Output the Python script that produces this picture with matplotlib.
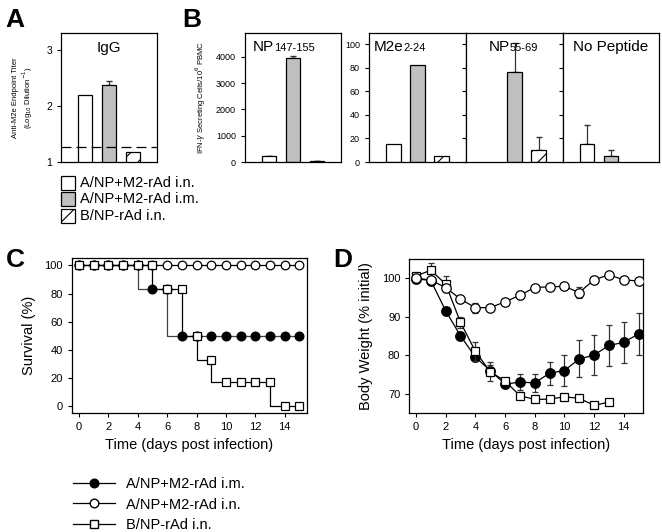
import numpy as np
import matplotlib
matplotlib.use("Agg")
import matplotlib.pyplot as plt
from matplotlib.patches import Rectangle
from matplotlib.lines import Line2D

plt.rcParams['font.family'] = ['Liberation Sans', 'DejaVu Sans']
plt.rcParams['hatch.linewidth'] = 0.8

W, H = 662, 532

# panel A: anti-M2e IgG titer
groups = ["A/NP+M2-rAd i.n.", "A/NP+M2-rAd i.m.", "B/NP-rAd i.n."]
igg = [2.2, 2.38, 1.18]
igg_err = [0, 0.07, 0]
igg_cutoff = 1.27

# panel B: ELISPOT per peptide
peptides = [("NP", "147-155"), ("M2e", "2-24"), ("NP", "55-69"), ("No Peptide", "")]
elispot = [[220, 3950, 40], [15.5, 82, 5], [0, 76.7, 10.6], [15.6, 5.4, 0]]
elispot_err = [[15, 100, 15], [0, 0, 0], [0, 24, 10.5], [15.5, 5.2, 0]]

# panel C: survival
days = list(range(16))
surv_im = [100] * 5 + [83, 83] + [50] * 9
surv_in = [100] * 16
surv_bnp = [100] * 6 + [83, 83, 50, 33, 17, 17, 17, 17, 0, 0]
series_labels = ["A/NP+M2-rAd i.m.", "A/NP+M2-rAd i.n.", "B/NP-rAd i.n."]

# panel D: body weight
wt_im = [99.8, 99.3, 91.5, 85, 79.5, 76, 72.5, 73, 72.8, 75.3, 76, 79, 80, 82.5, 83.3, 85.5]
wt_im_err = [0.5, 0.5, 0.5, 1.0, 1.0, 1.5, 1.0, 2.0, 2.3, 3.0, 4.0, 4.8, 5.2, 5.2, 5.3, 5.5]
wt_in = [100, 99.4, 97.5, 94.5, 92.3, 92.3, 93.8, 95.5, 97.5, 97.7, 97.8, 96.2, 99.5, 100.8, 99.5, 99.2]
wt_in_err = [0.5, 0.5, 0.5, 0.5, 1.3, 1.0, 0.7, 1.0, 0.5, 0.5, 0.5, 1.5, 0.5, 0.5, 0.5, 0.5]
bnp_days = list(range(14))
wt_bnp = [100.5, 102, 98.4, 88.5, 81, 75.7, 73.3, 69.5, 68.5, 68.6, 69.2, 68.8, 67, 67.8]
wt_bnp_err = [0.5, 1.8, 2.0, 1.5, 2.5, 2.5, 0.5, 1.0, 0.7, 0.7, 0.5, 0.5, 0.3, 0.3]

fills = ['white', '#c0c0c0', 'white']
hatches = [None, None, '//']


def box(l, r, t, b):
    return [l / W, 1 - b / H, (r - l) / W, (b - t) / H]


def bars(ax, vals, errs):
    x = np.arange(3)
    for i in range(3):
        if vals[i] <= 0:
            continue
        ax.bar(x[i], vals[i], width=0.62, color=fills[i], edgecolor='black',
               linewidth=0.9, hatch=hatches[i], zorder=2)
        if errs[i] > 0:
            ax.errorbar(x[i], vals[i], yerr=[[0], [errs[i]]], fmt='none',
                        ecolor='#333333', elinewidth=0.9, capsize=2.5, zorder=1)
    ax.set_xlim(-1, 3)
    ax.set_xticks([])


fig = plt.figure(figsize=(W / 100, H / 100), dpi=100)

# ---- A
axA = fig.add_axes(box(61, 157, 33, 162))
bars(axA, igg, igg_err)
axA.axhline(igg_cutoff, color='black', ls=(0, (8, 4)), lw=0.9, zorder=3)
axA.set_ylim(1, 3.3)
axA.set_yticks([1, 2, 3])
axA.tick_params(labelsize=7.5, length=3, width=0.8)
axA.set_ylabel("Anti-M2e Endpoint Titer\n(Log$_{10}$ Dilution$^{-1}$)", fontsize=5.5, labelpad=8)
axA.text(0.5, 0.85, "IgG", transform=axA.transAxes, ha='center', va='baseline', fontsize=11)

# ---- B
b_edges = [(245, 341), (369, 466), (466, 563), (563, 659)]
axesB = []
for k, (l, r) in enumerate(b_edges):
    ax = fig.add_axes(box(l, r, 32.5, 162))
    bars(ax, elispot[k], elispot_err[k])
    if k == 0:
        ax.set_ylim(0, 4930)
        ax.set_yticks([0, 1000, 2000, 3000, 4000])
        ax.set_ylabel("IFN-$\\gamma$ Secreting Cells/10$^6$ PBMC", fontsize=5.5, labelpad=6)
    else:
        ax.set_ylim(0, 110)
        ax.set_yticks([0, 20, 40, 60, 80, 100])
        if k > 1:
            ax.set_yticklabels([])
    ax.tick_params(labelsize=6.5, length=3, width=0.8)
    main, sub = peptides[k]
    if sub:
        xs = {0: 0.085, 1: 0.045, 2: 0.23}[k]
        t = ax.text(xs, 0.86, main, transform=ax.transAxes, ha='left', va='baseline', fontsize=11)
        ax.annotate(sub, xy=(1, 0.03), xycoords=t, ha='left', va='bottom', fontsize=8)
    else:
        ax.text(0.5, 0.86, main, transform=ax.transAxes, ha='center', va='baseline', fontsize=11)
    axesB.append(ax)

# legend for A/B
for i, lab in enumerate(groups):
    yc = [182.7, 199.3, 216][i]
    fig.patches.append(Rectangle((61 / W, 1 - (yc + 7) / H), 14 / W, 14 / H,
                                 transform=fig.transFigure, facecolor=fills[i],
                                 edgecolor='black', lw=0.9, hatch=hatches[i]))
    fig.text(80 / W, 1 - yc / H, lab, fontsize=10.5, va='center', ha='left')

# ---- C
axC = fig.add_axes(box(71.7, 306.7, 258.3, 413.3))
ms = 6.2
axC.plot(days, surv_in, drawstyle='steps-pre', color='black', lw=0.9, marker='o',
         ms=ms, mfc='white', mec='black', mew=0.9, zorder=2)
axC.plot(days, surv_im, drawstyle='steps-pre', color='#404040', lw=0.9, marker='o',
         ms=ms, mfc='black', mec='black', zorder=3)
axC.plot(days, surv_bnp, drawstyle='steps-pre', color='black', lw=0.9, marker='s',
         ms=ms - 0.6, mfc='white', mec='black', mew=0.9, zorder=4)
axC.set_xlim(-0.5, 15.5)
axC.set_ylim(-5, 105)
axC.set_xticks(range(0, 16, 2))
axC.set_yticks(range(0, 101, 20))
axC.tick_params(labelsize=8, length=3, width=0.8)
axC.set_xlabel("Time (days post infection)", fontsize=10.5, labelpad=4)
axC.set_ylabel("Survival (%)", fontsize=10.5, labelpad=6)

handles = [
    Line2D([], [], color='black', lw=0.9, marker='o', ms=ms, mfc='black', mec='black'),
    Line2D([], [], color='black', lw=0.9, marker='o', ms=ms, mfc='white', mec='black'),
    Line2D([], [], color='black', lw=0.9, marker='s', ms=ms - 0.6, mfc='white', mec='black'),
]
fig.legend(handles, series_labels, loc='upper left', bbox_to_anchor=(73 / W, 1 - 477 / H),
           frameon=False, fontsize=10.5, handlelength=2.9, handletextpad=0.75,
           labelspacing=0.45, borderaxespad=0, borderpad=0)

# ---- D
axD = fig.add_axes(box(409.3, 643, 259, 413))
ekw = dict(ecolor='#333333', elinewidth=0.9, capsize=2.5, capthick=0.9)
axD.errorbar(days, wt_im, yerr=wt_im_err, color='black', lw=0.9, marker='o', ms=ms + 0.6,
             mfc='black', mec='black', zorder=2, **ekw)
axD.errorbar(bnp_days, wt_bnp, yerr=wt_bnp_err, color='black', lw=0.9, marker='s', ms=ms,
             mfc='white', mec='black', mew=0.9, zorder=3, **ekw)
axD.errorbar(days, wt_in, yerr=wt_in_err, color='black', lw=0.9, marker='o', ms=ms + 0.6,
             mfc='white', mec='black', mew=0.9, zorder=4, **ekw)
axD.set_xlim(-0.45, 15.3)
axD.set_ylim(65, 104.9)
axD.set_xticks(range(0, 16, 2))
axD.set_yticks([70, 80, 90, 100])
axD.tick_params(labelsize=8, length=3, width=0.8)
axD.set_xlabel("Time (days post infection)", fontsize=10.5, labelpad=4)
axD.set_ylabel("Body Weight (% initial)", fontsize=10.5, labelpad=6)

for ax in [axA, axC, axD] + axesB:
    for s in ax.spines.values():
        s.set_linewidth(0.9)

# panel letters
for letter, x, y in [("A", 5, 27), ("B", 182, 27), ("C", 6, 267), ("D", 333, 267)]:
    fig.text(x / W, 1 - y / H, letter, fontsize=19, fontweight='bold', va='baseline', ha='left')

fig.savefig("out.png", dpi=100)
